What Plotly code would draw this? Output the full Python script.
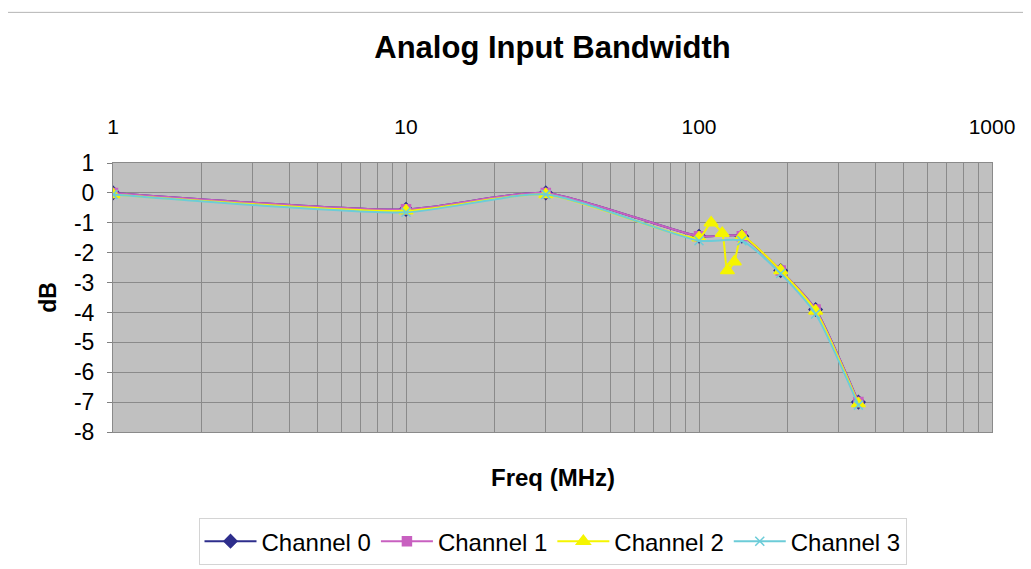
import plotly.graph_objects as go

# Frequency points (MHz) shared by channels 0, 1 and 3
freq = [1, 10, 30, 100, 140, 190, 250, 350]
ch0 = [0.0, -0.55, 0.0, -1.45, -1.45, -2.6, -3.9, -7.0]
ch1 = [0.0, -0.55, 0.0, -1.45, -1.45, -2.6, -3.9, -7.0]
ch3 = [-0.05, -0.65, -0.05, -1.6, -1.6, -2.7, -4.05, -7.1]

# Channel 2 has a few extra points around 100-140 MHz
freq2 = [1, 10, 30, 100, 110, 120, 125, 132, 140, 190, 250, 350]
ch2 = [-0.05, -0.6, -0.05, -1.5, -1.0, -1.35, -2.6, -2.3, -1.45, -2.6, -3.95, -7.05]

y_ticks = [1, 0, -1, -2, -3, -4, -5, -6, -7, -8]
y_labels = ["1", "0", "-1", "-2", "-3", "-4", "-5", "-6", "-7", "-8"]
x_ticks = [1, 10, 100, 1000]
x_labels = ["1", "10", "100", "1000"]

series = [
    ("Channel 0", freq, ch0, "#2E2E8C", "diamond", 10),
    ("Channel 1", freq, ch1, "#C860C0", "square", 9),
    ("Channel 2", freq2, ch2, "#F5F500", "triangle-up", 12),
    ("Channel 3", freq, ch3, "#6CCCD8", "x-thin-open", 9),
]

FONT = "Arial, Liberation Sans, sans-serif"

fig = go.Figure()
for name, x, y, color, sym, size in series:
    fig.add_trace(go.Scatter(
        x=x, y=y, name=name,
        mode="lines+markers",
        line=dict(color=color, width=2, shape="spline", smoothing=0.6),
        marker=dict(symbol=sym, size=size, color=color,
                    line=dict(color=color, width=1.5)),
    ))

minor_vals = [m * 10 ** d for d in range(3) for m in range(2, 10)]

fig.update_layout(
    width=1031, height=569,
    margin=dict(l=105, r=47, t=155, b=143),
    paper_bgcolor="white",
    plot_bgcolor="#C0C0C0",
    font=dict(family=FONT, size=20, color="black"),
    title=dict(text="<b>Analog Input Bandwidth</b>", xref="paper", x=0.5, xanchor="center",
               y=0.931, yanchor="middle", font=dict(size=31)),
    showlegend=True,
    legend=dict(orientation="h", x=0.5, xanchor="center", y=-0.32, yanchor="top",
                bordercolor="#D4D4D4", borderwidth=1, font=dict(size=24),
                itemwidth=52, tracegroupgap=0),
    # thin outer chart border, as in the spreadsheet export
    shapes=[dict(type="rect", xref="paper", yref="paper",
                 x0=-0.122, x1=1.2, y0=-0.7, y1=1.56,
                 line=dict(color="#B4B4B4", width=1), layer="above")],
    annotations=[dict(text="<b>Freq (MHz)</b>", xref="paper", yref="paper",
                      x=0.5, y=-0.17, xanchor="center", yanchor="middle",
                      showarrow=False, font=dict(size=24))],
)

fig.update_xaxes(
    type="log", range=[0, 3], side="top",
    tickvals=x_ticks, ticktext=x_labels,
    ticks="", ticklabelstandoff=20, tickfont=dict(size=21),
    showgrid=True, gridcolor="#8A8A8A", gridwidth=1,
    minor=dict(tickvals=minor_vals, showgrid=True, gridcolor="#8A8A8A", gridwidth=1),
    showline=True, linecolor="#8A8A8A", linewidth=1, mirror=True,
    zeroline=False,
)
fig.update_yaxes(
    range=[-8, 1], tickvals=y_ticks, ticktext=y_labels,
    ticks="outside", ticklen=5, tickcolor="#808080",
    ticklabelstandoff=8, tickfont=dict(size=23),
    showgrid=True, gridcolor="#8A8A8A", gridwidth=1,
    showline=True, linecolor="#8A8A8A", linewidth=1, mirror=True,
    zeroline=False,
    title=dict(text="<b>dB</b>", font=dict(size=23), standoff=10),
)

fig.write_html("out.html")
